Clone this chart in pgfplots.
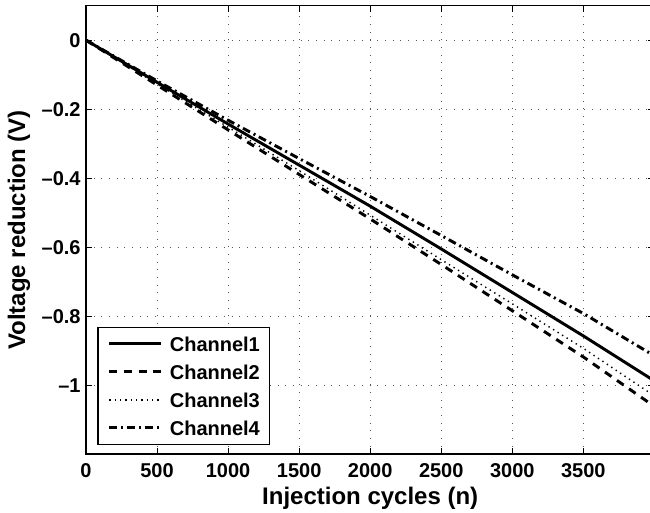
\documentclass[border=0pt]{standalone}
\usepackage{fontspec}
\setmainfont{Liberation Sans}
\usepackage{pgfplots}
\pgfplotsset{compat=1.18}
\begin{document}
\begin{tikzpicture}
\path[use as bounding box] (-64.5pt,-43.3pt) rectangle (423pt,340.7pt);
\begin{axis}[
  at={(0,0)}, anchor=south west,
  scale only axis, width=426.3pt, height=336.45pt,
  xmin=0, xmax=4000, ymin=-1.2, ymax=0.1,
  xtick={0,500,1000,1500,2000,2500,3000,3500},
  xticklabels={0,500,1000,1500,2000,2500,3000,3500},
  ytick={-1,-0.8,-0.6,-0.4,-0.2,0},
  yticklabels={–1,–0.8,–0.6,–0.4,–0.2,0},
  tick align=inside, major tick length=4.5pt,
  every tick/.style={black, line width=0.8pt},
  axis line style={line width=1.2pt},
  grid=major,
  major grid style={black!65, line width=0.6pt, dash pattern=on 0.75pt off 5pt},
  ticklabel style={font=\fontsize{15}{18}\selectfont\bfseries},
  xticklabel style={yshift=-3.5pt},
  yticklabel style={xshift=-0.5pt},
  xlabel={Injection cycles (n)}, ylabel={Voltage reduction (V)},
  label style={font=\fontsize{18}{22}\selectfont\bfseries},
  xlabel style={at={(axis description cs:0.5,-0.1127)}, anchor=base},
  ylabel style={at={(axis description cs:-0.1073,0.5)}, anchor=base, rotate=0},
  legend style={at={(0.0199,0.0207)}, anchor=south west, draw=black, line width=0.9pt,
    font=\fontsize{15}{18}\selectfont\bfseries, row sep=10.3pt, column sep=5.25pt,
    inner xsep=7.5pt, inner ysep=7pt,
    nodes={inner sep=0pt, text height=10.7pt, text depth=0pt}},
  legend cell align=left,
  legend image code/.code={\draw[#1] (0pt,0pt) -- (39pt,0pt);},
]
\addplot[black, line width=2.2pt] coordinates {(0,0) (500,-0.122) (1000,-0.243) (1500,-0.362) (2000,-0.481) (2500,-0.605) (3000,-0.731) (3500,-0.857) (3960,-0.977) (4000,-0.988)};
\addlegendentry{Channel1}
\addplot[black, line width=2.2pt, dash pattern=on 6pt off 5pt] coordinates {(0,0) (500,-0.13) (1000,-0.26) (1500,-0.389) (2000,-0.518) (2500,-0.65) (3000,-0.784) (3500,-0.918) (3960,-1.05) (4000,-1.061)};
\addlegendentry{Channel2}
\addplot[black, line width=1.1pt, dash pattern=on 1pt off 3pt] coordinates {(0,0) (500,-0.127) (1000,-0.252) (1500,-0.378) (2000,-0.507) (2500,-0.636) (3000,-0.764) (3500,-0.893) (3960,-1.02) (4000,-1.03)};
\addlegendentry{Channel3}
\addplot[black, line width=2.2pt, dash pattern=on 6pt off 3pt on 1.5pt off 3pt] coordinates {(0,0) (500,-0.118) (1000,-0.232) (1500,-0.343) (2000,-0.453) (2500,-0.566) (3000,-0.68) (3500,-0.792) (3960,-0.905) (4000,-0.915)};
\addlegendentry{Channel4}
\end{axis}
\end{tikzpicture}
\end{document}
